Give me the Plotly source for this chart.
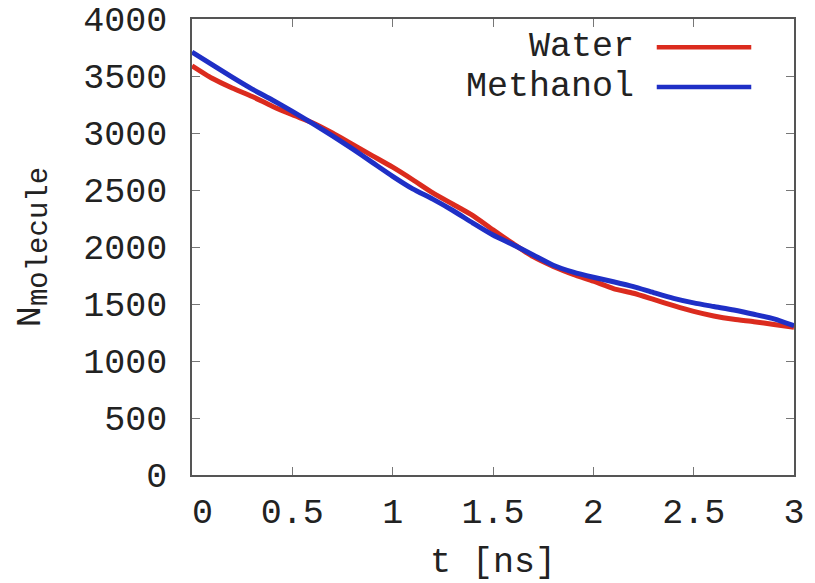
import plotly.graph_objects as go

t_ns = [0.0, 0.1, 0.2, 0.3, 0.4, 0.5, 0.6, 0.7, 0.8, 0.9, 1.0,
        1.1, 1.2, 1.3, 1.4, 1.5, 1.6, 1.7, 1.8, 1.9, 2.0,
        2.1, 2.2, 2.3, 2.4, 2.5, 2.6, 2.7, 2.8, 2.9, 3.0]
water = [3590, 3480, 3395, 3320, 3235, 3160, 3090, 3000, 2900, 2800, 2700,
         2590, 2475, 2375, 2275, 2150, 2030, 1915, 1830, 1760, 1700,
         1635, 1594, 1540, 1485, 1435, 1395, 1366, 1345, 1320, 1295]
methanol = [3710, 3600, 3490, 3385, 3290, 3190, 3085, 2975, 2860, 2740, 2620,
            2510, 2420, 2320, 2210, 2105, 2020, 1930, 1840, 1780, 1735,
            1695, 1652, 1600, 1550, 1510, 1478, 1447, 1410, 1370, 1310]
series_names = ["Water", "Methanol"]
colors = ["#db2b1e", "#1f2fc6"]

x_ticks = [0, 0.5, 1, 1.5, 2, 2.5, 3]
x_ticklabels = ["\u00a00", "0.5", "1", "1.5", "2", "2.5", "3"]
y_ticks = [0, 500, 1000, 1500, 2000, 2500, 3000, 3500, 4000]

FONT = "Liberation Mono, Courier New, monospace"
FS = 35

fig = go.Figure()
for name, ys, c in zip(series_names, [water, methanol], colors):
    fig.add_trace(go.Scatter(x=t_ns, y=ys, mode="lines", name=name,
                             line=dict(color=c, width=5, shape="spline", smoothing=0.6),
                             showlegend=False))

# gnuplot-style legend: text right-aligned, sample line on the right
leg_y = [0.938, 0.851]
for name, c, yy in zip(series_names, colors, leg_y):
    fig.add_annotation(x=0.738, y=yy, xref="paper", yref="paper", text=name,
                       showarrow=False, xanchor="right", yanchor="middle",
                       font=dict(family=FONT, size=FS, color="#222"))
    fig.add_shape(type="line", xref="paper", yref="paper",
                  x0=0.772, x1=0.929, y0=yy, y1=yy,
                  line=dict(color=c, width=4.5))

axis_common = dict(showline=True, linecolor="#555", linewidth=1.5, mirror="ticks",
                   ticks="inside", ticklen=8, tickcolor="#777", tickwidth=1,
                   showgrid=False, zeroline=False, ticklabeloverflow="allow",
                   tickfont=dict(family=FONT, size=FS, color="#222"))

fig.update_xaxes(range=[0, 3], tickvals=x_ticks, ticktext=x_ticklabels,
                 ticklabelstandoff=4,
                 title=dict(text="t [ns]", font=dict(family=FONT, size=FS, color="#222"),
                            standoff=32),
                 **axis_common)
fig.update_yaxes(range=[0, 4000], tickvals=y_ticks, ticklabelstandoff=16,
                 title=dict(text="N<sub><span style='font-size:29px'>molecule</span></sub>",
                            font=dict(family=FONT, size=FS, color="#222"), standoff=32),
                 **axis_common)

# page body has an 8px margin, so the figure is drawn 8px in from the window corner
fig.update_layout(width=807, height=575,
                  margin=dict(l=184, r=21, t=11, b=108, autoexpand=False),
                  plot_bgcolor="white", paper_bgcolor="white")

fig.write_html("out.html")
